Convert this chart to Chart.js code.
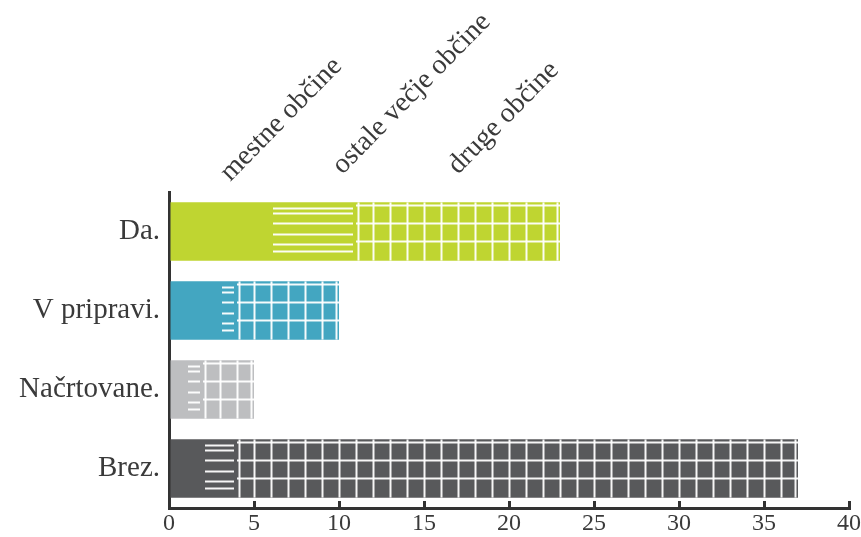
<!DOCTYPE html>
<html>
<head>
<meta charset="utf-8">
<script src="https://cdn.jsdelivr.net/npm/chart.js@4/dist/chart.umd.min.js"></script>
<style>
  html, body { margin: 0; padding: 0; background: #ffffff; }
  #wrap { width: 861px; height: 537px; position: relative; }
</style>
</head>
<body>
<div id="wrap"><canvas id="c"></canvas></div>
<script>
// ---- data ----
const categories = ['Da.', 'V pripravi.', 'Načrtovane.', 'Brez.'];
const seriesNames = ['mestne občine', 'ostale večje občine', 'druge občine'];
const mestne = [6, 3, 1, 2];
const ostale = [5, 1, 1, 2];
const druge = [12, 6, 3, 33];
const xTickValues = [0, 5, 10, 15, 20, 25, 30, 35, 40];
const barColors = ['#bfd531', '#43a6c1', '#bdbec0', '#58595b'];

const FONT = "'Liberation Serif', 'DejaVu Serif', serif";
const TEXT = '#3a3a3a';
const AXIS = '#333333';

// draws the white stripe / grid textures inside the library's bar elements
const patternPlugin = {
  id: 'patterns',
  afterDatasetsDraw(chart) {
    const ctx = chart.ctx;
    const xs = chart.scales.x;
    const stripeF = [0.09, 0.19, 0.36, 0.55, 0.72, 0.83];
    const gridF = [0.04, 0.35, 0.67];
    chart.data.datasets.forEach((ds, di) => {
      if (!ds.pattern) return;
      const meta = chart.getDatasetMeta(di);
      meta.data.forEach((bar) => {
        const p = bar.getProps(['x', 'y', 'base', 'height'], true);
        const left = Math.min(p.x, p.base), right = Math.max(p.x, p.base);
        if (right - left < 1) return;
        const top = p.y - p.height / 2, h = p.height;
        ctx.save();
        ctx.beginPath();
        ctx.rect(left, top, right - left, h);
        ctx.clip();
        ctx.strokeStyle = 'rgba(255,255,255,0.95)';
        ctx.lineWidth = 2;
        if (ds.pattern === 'stripes') {
          stripeF.forEach(f => {
            const yy = Math.round(top + f * h) + 0.5;
            ctx.beginPath();
            ctx.moveTo(left + 2, yy);
            ctx.lineTo(right - 3, yy);
            ctx.stroke();
          });
        } else {
          gridF.forEach(f => {
            const yy = Math.round(top + f * h) + 0.5;
            ctx.beginPath();
            ctx.moveTo(left, yy);
            ctx.lineTo(right, yy);
            ctx.stroke();
          });
          const v0 = xs.getValueForPixel(left), v1 = xs.getValueForPixel(right);
          for (let v = Math.round(v0); v <= Math.round(v1); v++) {
            let px = Math.round(xs.getPixelForValue(v)) + 0.5;
            if (px < left + 1) px = left + 2.5;
            if (px > right - 1) px = right - 2.5;
            ctx.beginPath();
            ctx.moveTo(px, top);
            ctx.lineTo(px, top + h);
            ctx.stroke();
          }
        }
        ctx.restore();
      });
    });
  }
};

// rotated series labels above the plot
const seriesLabelPlugin = {
  id: 'seriesLabels',
  afterDraw(chart, args, opts) {
    const ctx = chart.ctx;
    const xs = chart.scales.x;
    const top = chart.chartArea.top;
    ctx.save();
    ctx.fillStyle = TEXT;
    ctx.font = opts.font;
    ctx.textAlign = 'left';
    ctx.textBaseline = 'alphabetic';
    chart.data.datasets.forEach((ds, i) => {
      const x = xs.getPixelForValue(opts.anchors[i]);
      const y = top - opts.gaps[i];
      ctx.save();
      ctx.translate(x, y);
      ctx.rotate(-Math.PI / 4 - 0.01);
      ctx.fillText(ds.label, 0, 0);
      ctx.restore();
    });
    ctx.restore();
  }
};

new Chart(document.getElementById('c'), {
  type: 'bar',
  data: {
    labels: categories,
    datasets: [
      { label: seriesNames[0], data: mestne, backgroundColor: barColors, pattern: null },
      { label: seriesNames[1], data: ostale, backgroundColor: barColors, pattern: 'stripes' },
      { label: seriesNames[2], data: druge, backgroundColor: barColors, pattern: 'grid' }
    ]
  },
  options: {
    indexAxis: 'y',
    responsive: true,
    maintainAspectRatio: false,
    animation: false,
    datasets: {
      bar: { barPercentage: 0.74, categoryPercentage: 1.0, borderWidth: 0 }
    },
    layout: { padding: { top: 192, right: 12, bottom: 0, left: 0 } },
    scales: {
      x: {
        stacked: true,
        min: 0,
        max: 40,
        afterBuildTicks(scale) { scale.ticks = xTickValues.map(v => ({ value: v })); },
        afterFit(scale) { scale.height = 29; scale.paddingRight = 0; scale.paddingLeft = 0; },
        ticks: { color: TEXT, font: { family: FONT, size: 24 }, padding: 8, maxRotation: 0 },
        grid: { drawOnChartArea: false, drawTicks: true, tickLength: -7, color: AXIS, lineWidth: 3 },
        border: { display: true, color: AXIS, width: 3 }
      },
      y: {
        stacked: true,
        afterFit(scale) { scale.width = 169; },
        ticks: { color: TEXT, font: { family: FONT, size: 29 }, padding: 9 },
        grid: { display: false, drawTicks: false },
        border: { display: true, color: AXIS, width: 3 }
      }
    },
    plugins: {
      legend: { display: false },
      tooltip: { enabled: false },
      seriesLabels: {
        font: "28px 'Liberation Serif', 'DejaVu Serif', serif",
        anchors: [3.6, 10.2, 17.0],
        gaps: [10, 17, 17]
      }
    }
  },
  plugins: [patternPlugin, seriesLabelPlugin]
});
</script>
</body>
</html>
